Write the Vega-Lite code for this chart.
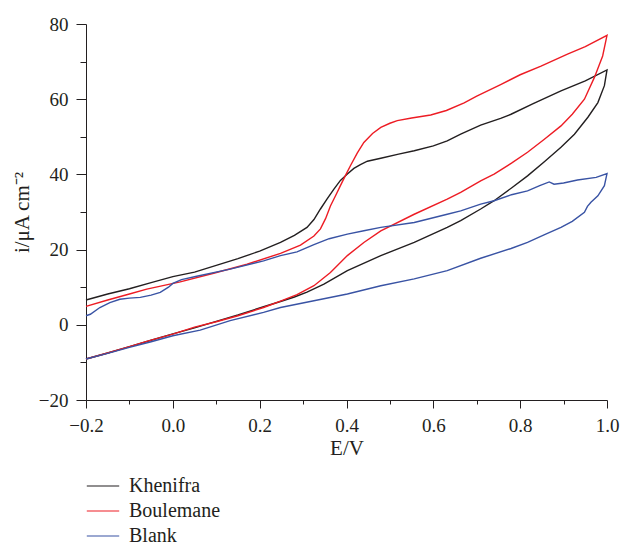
{
  "$schema": "https://vega.github.io/schema/vega-lite/v6.json",
  "width": 521,
  "height": 376,
  "autosize": {"type": "none"},
  "padding": {"left": 86, "top": 24, "right": 14, "bottom": 145},
  "background": "white",
  "config": {
    "view": {"stroke": null},
    "font": "Liberation Serif",
    "axis": {
      "domainColor": "#231f20",
      "tickColor": "#231f20",
      "labelColor": "#231f20",
      "titleColor": "#231f20",
      "labelFont": "Liberation Serif",
      "titleFont": "Liberation Serif",
      "labelFontSize": 19,
      "titleFontSize": 21,
      "titleFontWeight": "normal",
      "grid": false,
      "domainWidth": 1,
      "tickWidth": 1
    }
  },
  "data": {
    "values": [
      {"s": "Khenifra", "k": 0, "E": -0.2, "i": 6.6},
      {"s": "Khenifra", "k": 1, "E": -0.15, "i": 8.2},
      {"s": "Khenifra", "k": 2, "E": -0.1, "i": 9.6},
      {"s": "Khenifra", "k": 3, "E": -0.05, "i": 11.2},
      {"s": "Khenifra", "k": 4, "E": 0.0, "i": 12.8},
      {"s": "Khenifra", "k": 5, "E": 0.05, "i": 14.0},
      {"s": "Khenifra", "k": 6, "E": 0.1, "i": 15.8},
      {"s": "Khenifra", "k": 7, "E": 0.15, "i": 17.6},
      {"s": "Khenifra", "k": 8, "E": 0.2, "i": 19.6},
      {"s": "Khenifra", "k": 9, "E": 0.248, "i": 21.9},
      {"s": "Khenifra", "k": 10, "E": 0.28, "i": 23.8},
      {"s": "Khenifra", "k": 11, "E": 0.309, "i": 25.9},
      {"s": "Khenifra", "k": 12, "E": 0.325, "i": 28.0},
      {"s": "Khenifra", "k": 13, "E": 0.34, "i": 30.8},
      {"s": "Khenifra", "k": 14, "E": 0.355, "i": 33.4},
      {"s": "Khenifra", "k": 15, "E": 0.371, "i": 36.1},
      {"s": "Khenifra", "k": 16, "E": 0.386, "i": 38.4},
      {"s": "Khenifra", "k": 17, "E": 0.402, "i": 40.1},
      {"s": "Khenifra", "k": 18, "E": 0.417, "i": 41.6},
      {"s": "Khenifra", "k": 19, "E": 0.432, "i": 42.6},
      {"s": "Khenifra", "k": 20, "E": 0.448, "i": 43.5},
      {"s": "Khenifra", "k": 21, "E": 0.479, "i": 44.3},
      {"s": "Khenifra", "k": 22, "E": 0.52, "i": 45.4},
      {"s": "Khenifra", "k": 23, "E": 0.556, "i": 46.3},
      {"s": "Khenifra", "k": 24, "E": 0.6, "i": 47.6},
      {"s": "Khenifra", "k": 25, "E": 0.632, "i": 48.9},
      {"s": "Khenifra", "k": 26, "E": 0.663, "i": 50.7},
      {"s": "Khenifra", "k": 27, "E": 0.709, "i": 53.1},
      {"s": "Khenifra", "k": 28, "E": 0.755, "i": 54.9},
      {"s": "Khenifra", "k": 29, "E": 0.779, "i": 56.0},
      {"s": "Khenifra", "k": 30, "E": 0.83, "i": 58.8},
      {"s": "Khenifra", "k": 31, "E": 0.894, "i": 62.2},
      {"s": "Khenifra", "k": 32, "E": 0.95, "i": 64.9},
      {"s": "Khenifra", "k": 33, "E": 1.0, "i": 67.8},
      {"s": "Khenifra", "k": 34, "E": 0.994, "i": 63.6},
      {"s": "Khenifra", "k": 35, "E": 0.979, "i": 59.1},
      {"s": "Khenifra", "k": 36, "E": 0.956, "i": 55.2},
      {"s": "Khenifra", "k": 37, "E": 0.925, "i": 50.7},
      {"s": "Khenifra", "k": 38, "E": 0.894, "i": 47.2},
      {"s": "Khenifra", "k": 39, "E": 0.855, "i": 43.3},
      {"s": "Khenifra", "k": 40, "E": 0.817, "i": 39.6},
      {"s": "Khenifra", "k": 41, "E": 0.78, "i": 36.4},
      {"s": "Khenifra", "k": 42, "E": 0.74, "i": 33.0},
      {"s": "Khenifra", "k": 43, "E": 0.709, "i": 30.8},
      {"s": "Khenifra", "k": 44, "E": 0.663, "i": 27.7},
      {"s": "Khenifra", "k": 45, "E": 0.632, "i": 25.9},
      {"s": "Khenifra", "k": 46, "E": 0.556, "i": 21.9},
      {"s": "Khenifra", "k": 47, "E": 0.479, "i": 18.4},
      {"s": "Khenifra", "k": 48, "E": 0.402, "i": 14.4},
      {"s": "Khenifra", "k": 49, "E": 0.348, "i": 10.8},
      {"s": "Khenifra", "k": 50, "E": 0.309, "i": 8.7},
      {"s": "Khenifra", "k": 51, "E": 0.28, "i": 7.4},
      {"s": "Khenifra", "k": 52, "E": 0.248, "i": 6.2},
      {"s": "Khenifra", "k": 53, "E": 0.209, "i": 4.8},
      {"s": "Khenifra", "k": 54, "E": 0.15, "i": 2.6},
      {"s": "Khenifra", "k": 55, "E": 0.1, "i": 0.9},
      {"s": "Khenifra", "k": 56, "E": 0.05, "i": -0.8},
      {"s": "Khenifra", "k": 57, "E": 0.0, "i": -2.4},
      {"s": "Khenifra", "k": 58, "E": -0.05, "i": -4.1},
      {"s": "Khenifra", "k": 59, "E": -0.1, "i": -5.8},
      {"s": "Khenifra", "k": 60, "E": -0.15, "i": -7.5},
      {"s": "Khenifra", "k": 61, "E": -0.2, "i": -9.1},

      {"s": "Boulemane", "k": 0, "E": -0.2, "i": 4.9},
      {"s": "Boulemane", "k": 1, "E": -0.15, "i": 6.6},
      {"s": "Boulemane", "k": 2, "E": -0.1, "i": 8.2},
      {"s": "Boulemane", "k": 3, "E": -0.06, "i": 9.5},
      {"s": "Boulemane", "k": 4, "E": 0.017, "i": 11.4},
      {"s": "Boulemane", "k": 5, "E": 0.094, "i": 13.7},
      {"s": "Boulemane", "k": 6, "E": 0.171, "i": 16.1},
      {"s": "Boulemane", "k": 7, "E": 0.248, "i": 19.0},
      {"s": "Boulemane", "k": 8, "E": 0.294, "i": 21.2},
      {"s": "Boulemane", "k": 9, "E": 0.325, "i": 23.6},
      {"s": "Boulemane", "k": 10, "E": 0.34, "i": 25.5},
      {"s": "Boulemane", "k": 11, "E": 0.352, "i": 28.3},
      {"s": "Boulemane", "k": 12, "E": 0.363, "i": 31.6},
      {"s": "Boulemane", "k": 13, "E": 0.375, "i": 34.4},
      {"s": "Boulemane", "k": 14, "E": 0.386, "i": 37.0},
      {"s": "Boulemane", "k": 15, "E": 0.398, "i": 39.8},
      {"s": "Boulemane", "k": 16, "E": 0.409, "i": 42.3},
      {"s": "Boulemane", "k": 17, "E": 0.425, "i": 45.7},
      {"s": "Boulemane", "k": 18, "E": 0.44, "i": 48.5},
      {"s": "Boulemane", "k": 19, "E": 0.46, "i": 50.9},
      {"s": "Boulemane", "k": 20, "E": 0.479, "i": 52.5},
      {"s": "Boulemane", "k": 21, "E": 0.5, "i": 53.6},
      {"s": "Boulemane", "k": 22, "E": 0.517, "i": 54.3},
      {"s": "Boulemane", "k": 23, "E": 0.55, "i": 55.0},
      {"s": "Boulemane", "k": 24, "E": 0.594, "i": 55.8},
      {"s": "Boulemane", "k": 25, "E": 0.63, "i": 57.0},
      {"s": "Boulemane", "k": 26, "E": 0.671, "i": 59.0},
      {"s": "Boulemane", "k": 27, "E": 0.7, "i": 60.8},
      {"s": "Boulemane", "k": 28, "E": 0.755, "i": 63.9},
      {"s": "Boulemane", "k": 29, "E": 0.8, "i": 66.5},
      {"s": "Boulemane", "k": 30, "E": 0.848, "i": 68.8},
      {"s": "Boulemane", "k": 31, "E": 0.909, "i": 72.0},
      {"s": "Boulemane", "k": 32, "E": 0.95, "i": 74.0},
      {"s": "Boulemane", "k": 33, "E": 1.0, "i": 77.0},
      {"s": "Boulemane", "k": 34, "E": 0.99, "i": 71.5},
      {"s": "Boulemane", "k": 35, "E": 0.971, "i": 65.8},
      {"s": "Boulemane", "k": 36, "E": 0.948, "i": 60.0},
      {"s": "Boulemane", "k": 37, "E": 0.92, "i": 56.0},
      {"s": "Boulemane", "k": 38, "E": 0.894, "i": 52.9},
      {"s": "Boulemane", "k": 39, "E": 0.855, "i": 49.3},
      {"s": "Boulemane", "k": 40, "E": 0.817, "i": 45.9},
      {"s": "Boulemane", "k": 41, "E": 0.78, "i": 43.0},
      {"s": "Boulemane", "k": 42, "E": 0.74, "i": 40.1},
      {"s": "Boulemane", "k": 43, "E": 0.709, "i": 38.3},
      {"s": "Boulemane", "k": 44, "E": 0.663, "i": 35.2},
      {"s": "Boulemane", "k": 45, "E": 0.632, "i": 33.4},
      {"s": "Boulemane", "k": 46, "E": 0.556, "i": 29.4},
      {"s": "Boulemane", "k": 47, "E": 0.479, "i": 25.0},
      {"s": "Boulemane", "k": 48, "E": 0.44, "i": 21.9},
      {"s": "Boulemane", "k": 49, "E": 0.402, "i": 18.4},
      {"s": "Boulemane", "k": 50, "E": 0.363, "i": 13.9},
      {"s": "Boulemane", "k": 51, "E": 0.325, "i": 10.4},
      {"s": "Boulemane", "k": 52, "E": 0.286, "i": 8.0},
      {"s": "Boulemane", "k": 53, "E": 0.248, "i": 6.3},
      {"s": "Boulemane", "k": 54, "E": 0.209, "i": 4.6},
      {"s": "Boulemane", "k": 55, "E": 0.15, "i": 2.4},
      {"s": "Boulemane", "k": 56, "E": 0.1, "i": 0.8},
      {"s": "Boulemane", "k": 57, "E": 0.05, "i": -0.6},
      {"s": "Boulemane", "k": 58, "E": 0.0, "i": -2.5},
      {"s": "Boulemane", "k": 59, "E": -0.06, "i": -4.4},
      {"s": "Boulemane", "k": 60, "E": -0.1, "i": -5.8},
      {"s": "Boulemane", "k": 61, "E": -0.15, "i": -7.5},
      {"s": "Boulemane", "k": 62, "E": -0.2, "i": -9.1},

      {"s": "Blank", "k": 0, "E": -0.2, "i": 2.4},
      {"s": "Blank", "k": 1, "E": -0.19, "i": 2.8},
      {"s": "Blank", "k": 2, "E": -0.168, "i": 4.6},
      {"s": "Blank", "k": 3, "E": -0.145, "i": 5.9},
      {"s": "Blank", "k": 4, "E": -0.122, "i": 6.8},
      {"s": "Blank", "k": 5, "E": -0.1, "i": 7.1},
      {"s": "Blank", "k": 6, "E": -0.075, "i": 7.3},
      {"s": "Blank", "k": 7, "E": -0.05, "i": 7.9},
      {"s": "Blank", "k": 8, "E": -0.029, "i": 8.6},
      {"s": "Blank", "k": 9, "E": -0.01, "i": 10.0},
      {"s": "Blank", "k": 10, "E": 0.0, "i": 11.0},
      {"s": "Blank", "k": 11, "E": 0.02, "i": 12.0},
      {"s": "Blank", "k": 12, "E": 0.055, "i": 12.9},
      {"s": "Blank", "k": 13, "E": 0.132, "i": 14.8},
      {"s": "Blank", "k": 14, "E": 0.209, "i": 17.0},
      {"s": "Blank", "k": 15, "E": 0.248, "i": 18.4},
      {"s": "Blank", "k": 16, "E": 0.286, "i": 19.4},
      {"s": "Blank", "k": 17, "E": 0.325, "i": 21.3},
      {"s": "Blank", "k": 18, "E": 0.36, "i": 22.9},
      {"s": "Blank", "k": 19, "E": 0.402, "i": 24.1},
      {"s": "Blank", "k": 20, "E": 0.44, "i": 25.0},
      {"s": "Blank", "k": 21, "E": 0.479, "i": 25.9},
      {"s": "Blank", "k": 22, "E": 0.556, "i": 27.2},
      {"s": "Blank", "k": 23, "E": 0.632, "i": 29.4},
      {"s": "Blank", "k": 24, "E": 0.663, "i": 30.3},
      {"s": "Blank", "k": 25, "E": 0.709, "i": 32.1},
      {"s": "Blank", "k": 26, "E": 0.74, "i": 33.0},
      {"s": "Blank", "k": 27, "E": 0.78, "i": 34.6},
      {"s": "Blank", "k": 28, "E": 0.817, "i": 35.6},
      {"s": "Blank", "k": 29, "E": 0.845, "i": 37.0},
      {"s": "Blank", "k": 30, "E": 0.867, "i": 38.0},
      {"s": "Blank", "k": 31, "E": 0.878, "i": 37.4},
      {"s": "Blank", "k": 32, "E": 0.9, "i": 37.7},
      {"s": "Blank", "k": 33, "E": 0.932, "i": 38.5},
      {"s": "Blank", "k": 34, "E": 0.975, "i": 39.2},
      {"s": "Blank", "k": 35, "E": 1.0, "i": 40.2},
      {"s": "Blank", "k": 36, "E": 0.994, "i": 37.0},
      {"s": "Blank", "k": 37, "E": 0.979, "i": 34.3},
      {"s": "Blank", "k": 38, "E": 0.963, "i": 32.6},
      {"s": "Blank", "k": 39, "E": 0.955, "i": 31.5},
      {"s": "Blank", "k": 40, "E": 0.948, "i": 29.9},
      {"s": "Blank", "k": 41, "E": 0.92, "i": 27.5},
      {"s": "Blank", "k": 42, "E": 0.894, "i": 25.9},
      {"s": "Blank", "k": 43, "E": 0.855, "i": 23.9},
      {"s": "Blank", "k": 44, "E": 0.817, "i": 21.9},
      {"s": "Blank", "k": 45, "E": 0.779, "i": 20.3},
      {"s": "Blank", "k": 46, "E": 0.709, "i": 17.7},
      {"s": "Blank", "k": 47, "E": 0.632, "i": 14.4},
      {"s": "Blank", "k": 48, "E": 0.556, "i": 12.2},
      {"s": "Blank", "k": 49, "E": 0.479, "i": 10.4},
      {"s": "Blank", "k": 50, "E": 0.402, "i": 8.2},
      {"s": "Blank", "k": 51, "E": 0.325, "i": 6.4},
      {"s": "Blank", "k": 52, "E": 0.248, "i": 4.6},
      {"s": "Blank", "k": 53, "E": 0.209, "i": 3.3},
      {"s": "Blank", "k": 54, "E": 0.132, "i": 1.1},
      {"s": "Blank", "k": 55, "E": 0.063, "i": -1.4},
      {"s": "Blank", "k": 56, "E": 0.0, "i": -2.9},
      {"s": "Blank", "k": 57, "E": -0.05, "i": -4.5},
      {"s": "Blank", "k": 58, "E": -0.1, "i": -6.0},
      {"s": "Blank", "k": 59, "E": -0.15, "i": -7.6},
      {"s": "Blank", "k": 60, "E": -0.2, "i": -9.1}
    ]
  },
  "mark": {"type": "line", "strokeWidth": 1.4},
  "encoding": {
    "x": {
      "field": "E",
      "type": "quantitative",
      "scale": {"domain": [-0.2, 1.0], "nice": false, "zero": false},
      "axis": {
        "title": "E/V",
        "values": [-0.2, -0.1, 0.0, 0.1, 0.2, 0.3, 0.4, 0.5, 0.6, 0.7, 0.8, 0.9, 1.0],
        "labelExpr": "abs(round(datum.value*10))%2==0 ? format(datum.value,'.1f') : ''",
        "tickSize": {"condition": {"test": "abs(round(datum.value*10))%2==0", "value": 8}, "value": 4},
        "labelPadding": 8,
        "labelFlush": false,
        "labelOverlap": false,
        "titleY": 54,
        "titleBaseline": "alphabetic"
      }
    },
    "y": {
      "field": "i",
      "type": "quantitative",
      "scale": {"domain": [-20, 80], "nice": false, "zero": false},
      "axis": {
        "title": "i/μA cm⁻²",
        "values": [-20, -10, 0, 10, 20, 30, 40, 50, 60, 70, 80],
        "labelExpr": "abs(round(datum.value))%20==0 ? format(datum.value,'d') : ''",
        "tickSize": {"condition": {"test": "abs(round(datum.value))%20==0", "value": 10}, "value": 6},
        "labelPadding": 8,
        "labelFlush": false,
        "labelOverlap": false,
        "titleX": -64,
        "titleBaseline": "middle"
      }
    },
    "color": {
      "field": "s",
      "type": "nominal",
      "scale": {"domain": ["Khenifra", "Boulemane", "Blank"], "range": ["#231f20", "#ed1c24", "#3953a4"]},
      "legend": {
        "title": null,
        "orient": "none",
        "legendX": 4,
        "legendY": 449,
        "direction": "vertical",
        "padding": 0,
        "symbolType": "M-1.35,0H1.35",
        "symbolSize": 576,
        "symbolStrokeWidth": 1.2,
        "labelFont": "Liberation Serif",
        "labelFontSize": 20,
        "labelColor": "#231f20",
        "labelOffset": 13,
        "rowPadding": 2
      }
    },
    "order": {"field": "k", "type": "quantitative"}
  }
}
